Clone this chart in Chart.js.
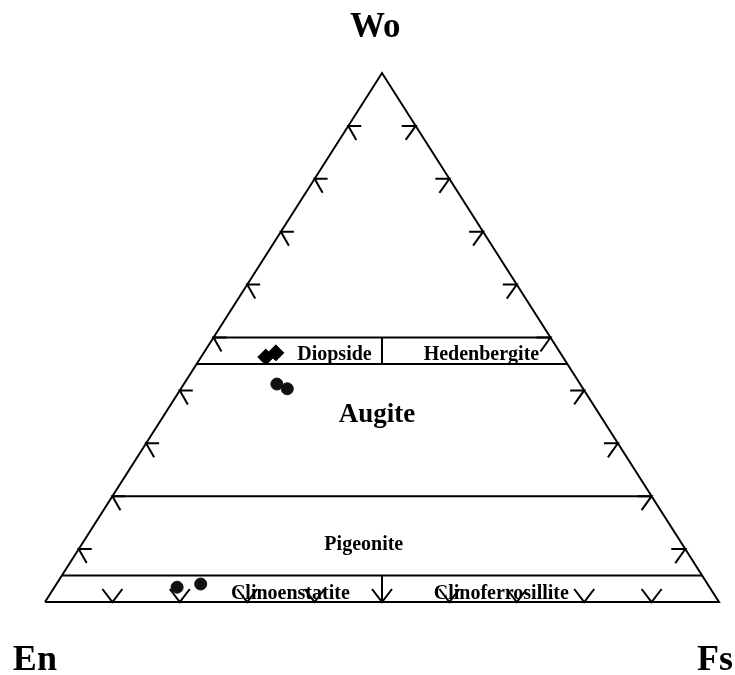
<!DOCTYPE html>
<html>
<head>
<meta charset="utf-8">
<script src="https://cdn.jsdelivr.net/npm/chart.js@4.4.0/dist/chart.umd.min.js"></script>
<style>
html, body { margin: 0; padding: 0; background: #fff; }
#wrap { width: 735px; height: 675px; }
</style>
</head>
<body>
<div id="wrap"><canvas id="pyxChart" width="735" height="675"></canvas></div>
<script>
// Pyroxene classification - Wo / En / Fs ternary

// samples, mol % (En = 100 - Wo - Fs)
const diamondWo = [46.3, 47.1];
const diamondFs = [9.6, 10.7];
const circleWo = [41.2, 40.3, 2.8, 3.4];
const circleFs = [13.8, 15.8, 18.2, 21.4];

// field boundaries (Wo %) and the En = Fs dividers (Wo ranges)
const boundaryWo = [50, 45, 20, 5];
const dividerWo = [[45, 50], [0, 5]];

const tickValues = [10, 20, 30, 40, 50, 60, 70, 80, 90];

const fieldNames = ['Diopside', 'Hedenbergite', 'Augite', 'Pigeonite', 'Clinoenstatite', 'Clinoferrosillite'];
const cornerNames = ['Wo', 'En', 'Fs'];

// label layout (ternary Wo / Fs of the text anchor), font sizes
const fieldLayout = [
    { wo: 45.7, fs: 20.1, size: 20 },
    { wo: 45.7, fs: 41.9, size: 20 },
    { wo: 34.1, fs: 32.2, size: 27 },
    { wo: 9.8, fs: 42.4, size: 20 },
    { wo: 0.6, fs: 36.1, size: 20 },
    { wo: 0.6, fs: 67.4, size: 20 }
];
const cornerLayout = [
    { x: 49.0, y: 106.8 },
    { x: -1.5, y: -12.9 },
    { x: 99.4, y: -12.9 }
];

const SERIF = "'Liberation Serif', 'Times New Roman', serif";

function toXY(wo, fs) {
    return { x: fs + wo / 2, y: wo };
}

function lineSet(points) {
    return {
        data: points,
        showLine: true,
        pointRadius: 0,
        borderColor: '#000',
        borderWidth: 2,
        fill: false,
        clip: false
    };
}

const datasets = [];

// outline En -> Fs -> Wo -> En
datasets.push(lineSet([toXY(0, 0), toXY(0, 100), toXY(100, 0), toXY(0, 0)]));

boundaryWo.forEach(w => {
    datasets.push(lineSet([{ x: w / 2, y: w }, { x: 100 - w / 2, y: w }]));
});

dividerWo.forEach(r => {
    datasets.push(lineSet([{ x: 50, y: r[0] }, { x: 50, y: r[1] }]));
});

datasets.push({
    data: diamondWo.map((w, i) => toXY(w, diamondFs[i])),
    pointStyle: 'rectRot',
    pointRadius: 8,
    backgroundColor: '#000',
    borderColor: '#000',
    borderWidth: 1,
    clip: false
});

datasets.push({
    data: circleWo.map((w, i) => toXY(w, circleFs[i])),
    pointStyle: 'circle',
    pointRadius: 6,
    backgroundColor: '#111',
    borderColor: '#111',
    borderWidth: 1,
    clip: false
});

const ternaryDecor = {
    id: 'ternaryDecor',
    afterDatasetsDraw(chart) {
        const { ctx, scales: { x, y } } = chart;
        ctx.save();
        ctx.strokeStyle = '#000';
        ctx.lineWidth = 2;
        ctx.lineCap = 'butt';

        tickValues.forEach(v => {
            // left edge (Wo)
            let px = x.getPixelForValue(v / 2);
            let py = y.getPixelForValue(v);
            ctx.beginPath();
            ctx.moveTo(px + 13, py);
            ctx.lineTo(px, py);
            ctx.lineTo(px + 8, py + 14);
            ctx.stroke();

            // right edge
            px = x.getPixelForValue(100 - v / 2);
            ctx.beginPath();
            ctx.moveTo(px - 14, py);
            ctx.lineTo(px, py);
            ctx.lineTo(px - 10, py + 14);
            ctx.stroke();

            // base
            px = x.getPixelForValue(v);
            py = y.getPixelForValue(0);
            ctx.beginPath();
            ctx.moveTo(px - 10, py - 13);
            ctx.lineTo(px, py);
            ctx.lineTo(px + 10, py - 13);
            ctx.stroke();
        });

        ctx.fillStyle = '#000';
        ctx.textAlign = 'center';
        ctx.textBaseline = 'alphabetic';

        fieldNames.forEach((name, i) => {
            const l = fieldLayout[i];
            const p = toXY(l.wo, l.fs);
            ctx.font = 'bold ' + l.size + 'px ' + SERIF;
            ctx.fillText(name, x.getPixelForValue(p.x), y.getPixelForValue(p.y));
        });

        cornerNames.forEach((name, i) => {
            const l = cornerLayout[i];
            ctx.font = 'bold ' + (i === 0 ? 35 : 36) + 'px ' + SERIF;
            ctx.fillText(name, x.getPixelForValue(l.x), y.getPixelForValue(l.y));
        });

        ctx.restore();
    }
};

new Chart(document.getElementById('pyxChart'), {
    type: 'scatter',
    data: { datasets },
    options: {
        responsive: false,
        animation: false,
        events: [],
        layout: { padding: { left: 45, right: 16, top: 73, bottom: 73 } },
        scales: {
            x: { type: 'linear', min: 0, max: 100, display: false },
            y: { type: 'linear', min: 0, max: 100, display: false }
        },
        plugins: {
            legend: { display: false },
            tooltip: { enabled: false }
        }
    },
    plugins: [ternaryDecor]
});
</script>
</body>
</html>
